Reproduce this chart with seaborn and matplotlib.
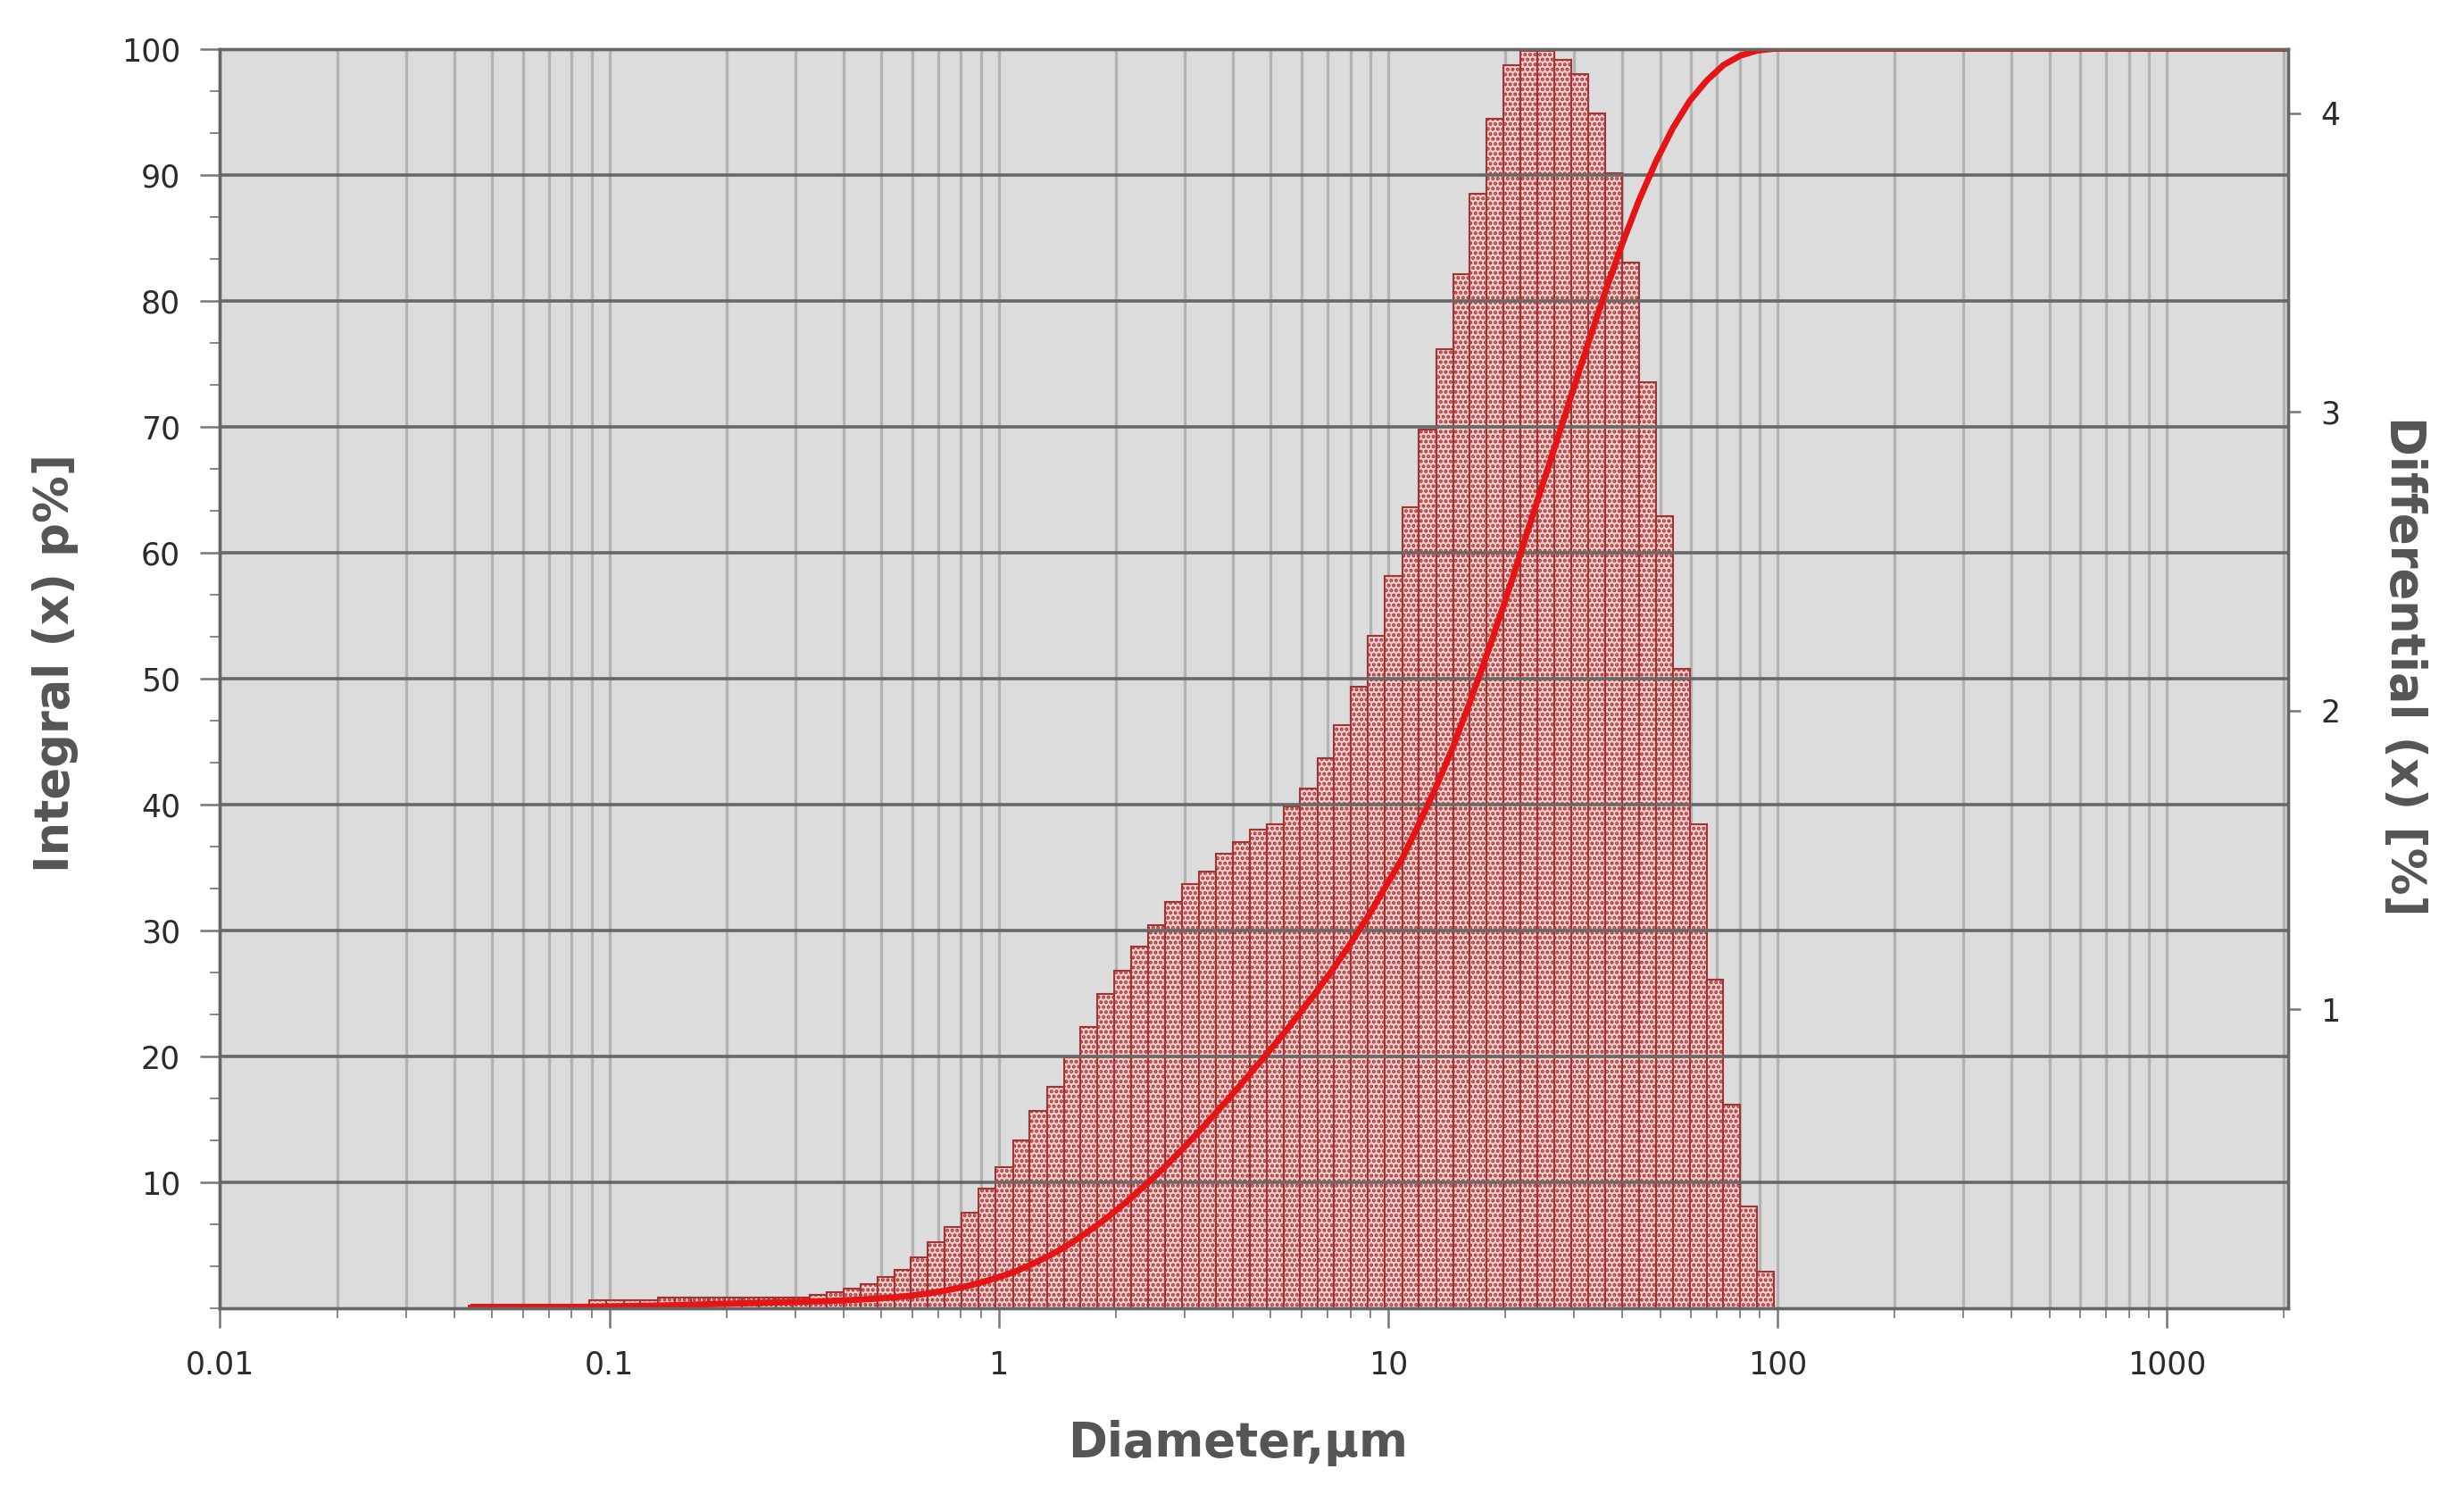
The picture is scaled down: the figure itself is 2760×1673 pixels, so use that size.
import matplotlib
matplotlib.use("Agg")
import matplotlib.pyplot as plt
import numpy as np
import pandas as pd
import seaborn as sns
from matplotlib.ticker import LogLocator, MultipleLocator, NullFormatter

# bin edges of the size classes, um (ascending)
bin_edges = [
    0.0441, 0.0488, 0.0539, 0.0595, 0.0658, 0.0727, 0.0803, 0.0887, 0.0980,
    0.109, 0.120, 0.133, 0.147, 0.162, 0.179, 0.198, 0.219, 0.242, 0.268, 0.296,
    0.327, 0.361, 0.399, 0.441, 0.488, 0.539, 0.595, 0.658, 0.727, 0.803, 0.887,
    0.980, 1.09, 1.20, 1.33, 1.47, 1.62, 1.79, 1.98, 2.19, 2.42, 2.68, 2.96,
    3.27, 3.61, 3.99, 4.41, 4.88, 5.39, 5.95, 6.58, 7.27, 8.03, 8.87, 9.80,
    10.9, 12.0, 13.3, 14.7, 16.2, 17.9, 19.8, 21.9, 24.2, 26.8, 29.6, 32.7,
    36.1, 39.9, 44.1, 48.8, 53.9, 59.5, 65.8, 72.7, 80.3, 88.7, 98.0,
]

# differential distribution, % per class
differential = [
    0.012, 0.012, 0.012, 0.012, 0.012, 0.012, 0.012,
    0.025, 0.025, 0.025, 0.025,
    0.035, 0.035, 0.035, 0.035, 0.035, 0.035, 0.035, 0.035, 0.036,
    0.043, 0.053, 0.064, 0.078, 0.103, 0.128, 0.17, 0.22, 0.27, 0.32,
    0.40, 0.47, 0.56, 0.66, 0.74, 0.84, 0.94, 1.05, 1.13, 1.21,
    1.28, 1.36, 1.42, 1.46, 1.52, 1.56, 1.60, 1.62, 1.68, 1.74,
    1.84, 1.95, 2.08, 2.25, 2.45, 2.68, 2.94, 3.21, 3.46, 3.73,
    3.98, 4.16, 4.21, 4.21, 4.18, 4.13, 4.00, 3.80, 3.50, 3.10,
    2.65, 2.14, 1.62, 1.10, 0.68, 0.34, 0.12,
]

# integral (cumulative) curve, %
cum_diameter = bin_edges + [2050.0]
cum_percent = [
    0.0, 0.012, 0.024, 0.036, 0.048, 0.060, 0.072, 0.084, 0.109,
    0.134, 0.159, 0.184, 0.219, 0.254, 0.289, 0.324, 0.359, 0.394, 0.429, 0.464,
    0.50, 0.54, 0.60, 0.66, 0.74, 0.84, 0.97, 1.14, 1.36, 1.63, 1.95,
    2.35, 2.82, 3.38, 4.04, 4.78, 5.62, 6.56, 7.61, 8.74, 9.95, 11.23, 12.59,
    14.01, 15.47, 16.99, 18.55, 20.15, 21.77, 23.45, 25.19, 27.03, 28.98, 31.06, 33.31,
    35.76, 38.44, 41.38, 44.59, 48.05, 51.78, 55.76, 59.92, 64.13, 68.34, 72.52, 76.65,
    80.65, 84.45, 87.95, 91.05, 93.70, 95.84, 97.46, 98.70, 99.45, 99.85, 100.0,
    100.0,
]

x_ticks = [0.01, 0.1, 1, 10, 100, 1000]
x_tick_labels = ["0.01", "0.1", "1", "10", "100", "1000"]
left_ticks = [10, 20, 30, 40, 50, 60, 70, 80, 90, 100]
right_ticks = [1, 2, 3, 4]

plt.rcParams["font.family"] = ["DejaVu Sans"]
plt.rcParams["hatch.linewidth"] = 2.0

fig = plt.figure(figsize=(27.6, 16.73), dpi=100)
ax = fig.add_axes([0.0893, 0.1246, 0.8393, 0.8428])
ax.set_facecolor("#dcdcdc")

edges = np.array(bin_edges)
classes = pd.DataFrame({
    "diameter": np.sqrt(edges[:-1] * edges[1:]),
    "differential": differential,
})
sns.histplot(
    data=classes,
    x="diameter",
    weights="differential",
    bins=list(np.log10(edges)),
    log_scale=True,
    ax=ax,
    facecolor="#f3cccc",
    edgecolor="#a33434",
    hatch="...",
    linewidth=1.5,
    alpha=1,
)

ax_int = ax.twinx()
sns.lineplot(x=cum_diameter, y=cum_percent, ax=ax_int, color="#e61414", linewidth=5)

# differential axis on the right
ax.set_xscale("log")
ax.set_xlim(0.01, 2050)
ax.set_ylim(0, 4.216)
ax.yaxis.tick_right()
ax.yaxis.set_label_position("right")
ax.set_yticks(right_ticks)
ax.set_axisbelow(True)
ax.grid(False)
ax.grid(axis="x", which="both", color="#b3b3b3", linewidth=2.4)

ax.set_xticks(x_ticks, labels=x_tick_labels)
ax.xaxis.set_minor_locator(LogLocator(base=10, subs=range(2, 10), numticks=20))
ax.xaxis.set_minor_formatter(NullFormatter())

# integral axis on the left
ax_int.yaxis.tick_left()
ax_int.yaxis.set_label_position("left")
ax_int.set_ylim(0, 100)
ax_int.set_yticks(left_ticks)
ax_int.yaxis.set_minor_locator(MultipleLocator(10 / 3))
ax_int.grid(axis="y", which="major", color="#686868", linewidth=2.6)
ax_int.grid(axis="x", visible=False)

for a in (ax, ax_int):
    for s in a.spines.values():
        s.set_color("#666666")
        s.set_linewidth(2.4)

ax.tick_params(axis="x", which="major", length=16, width=1.8, color="#777777",
               pad=18, labelsize=25, labelcolor="#2b2b2b")
ax.tick_params(axis="x", which="minor", length=8, width=1.4, color="#888888")
ax.tick_params(axis="y", which="major", length=10, width=1.8, color="#777777",
               pad=16, labelsize=25, labelcolor="#2b2b2b")
ax_int.tick_params(axis="y", which="major", length=16, width=1.8, color="#777777",
                   pad=16, labelsize=25, labelcolor="#2b2b2b")
ax_int.tick_params(axis="y", which="minor", length=8, width=1.4, color="#888888")

label_kw = dict(fontsize=38, fontweight="bold", color="#555555")
ax.set_xlabel("Diameter,µm", va="center", **label_kw)
ax.xaxis.set_label_coords(0.492, -0.1075)
ax_int.set_ylabel("Integral (x) p%]", va="center", **label_kw)
ax_int.yaxis.set_label_coords(-0.0798, 0.512)
ax.set_ylabel("Differential (x) [%]", rotation=-90, va="center", **label_kw)
ax.yaxis.set_label_coords(1.056, 0.51)

fig.savefig("out.png", dpi=100, facecolor="white")
